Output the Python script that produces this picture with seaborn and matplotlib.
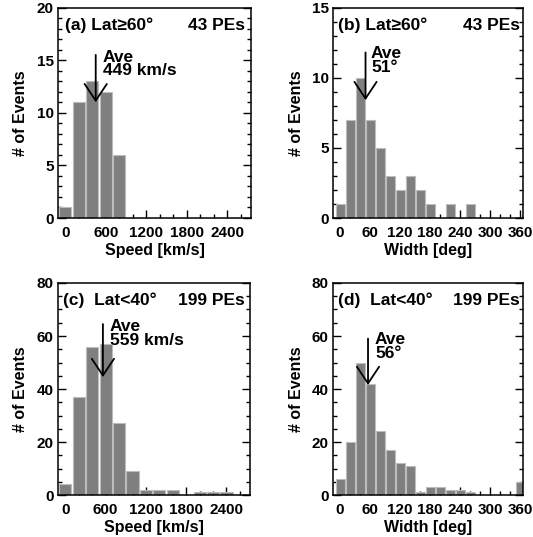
import numpy as np
import pandas as pd
import matplotlib
matplotlib.use("Agg")
import matplotlib.pyplot as plt
from matplotlib.ticker import MultipleLocator
import seaborn as sns

# ---------------- data ----------------
speed_bins = [0, 200, 400, 600, 800, 1000, 1200, 1400, 1600, 1800, 2000, 2200, 2400]
speed_hi = [1, 11, 13, 12, 6, 0, 0, 0, 0, 0, 0, 0, 0]          # Lat >= 60
speed_lo = [4, 37, 56, 57, 27, 9, 2, 2, 2, 0, 1, 1, 1]          # Lat < 40

width_bins = [0, 20, 40, 60, 80, 100, 120, 140, 160, 180, 200, 220, 240,
              260, 280, 300, 320, 340, 360]
width_hi = [1, 7, 10, 7, 5, 3, 2, 3, 2, 1, 0, 1, 0, 1, 0, 0, 0, 0, 0]
width_lo = [6, 20, 50, 42, 24, 17, 12, 11, 1, 3, 3, 2, 2, 1, 0, 0, 0, 0, 5]

panel_labels = ["(a) Lat\u226560\u00b0", "(b) Lat\u226560\u00b0",
                "(c)  Lat<40\u00b0", "(d)  Lat<40\u00b0"]
pe_labels = ["43 PEs", "43 PEs", "199 PEs", "199 PEs"]
ave_values = [449, 51, 559, 56]
ave_texts = ["Ave\n449 km/s", "Ave\n51\u00b0", "Ave\n559 km/s", "Ave\n56\u00b0"]
speed_ticks = [0, 600, 1200, 1800, 2400]
width_ticks = [0, 60, 120, 180, 240, 300, 360]

# ---------------- style ----------------
sns.set_theme(style="ticks")
plt.rcParams["font.family"] = ["Liberation Sans", "DejaVu Sans"]
plt.rcParams["font.weight"] = "bold"
plt.rcParams["axes.labelweight"] = "bold"
plt.rcParams["axes.linewidth"] = 1.1
plt.rcParams["axes.edgecolor"] = "black"
plt.rcParams["text.color"] = "black"
plt.rcParams["axes.labelcolor"] = "black"
plt.rcParams["xtick.color"] = "black"
plt.rcParams["ytick.color"] = "black"

FS_TICK = 11
FS_LAB = 11.5
FS_TXT = 12.5
BAR = "#7f7f7f"
EDGE = "#bdbdbd"

fig = plt.figure(figsize=(5.33, 5.37), dpi=100)

rects = [
    [0.1088, 0.594, 0.3621, 0.392],
    [0.6248, 0.594, 0.3565, 0.392],
    [0.1088, 0.0782, 0.3602, 0.3948],
    [0.6248, 0.0782, 0.3565, 0.3948],
]

panels = [
    dict(x=speed_bins, y=speed_hi, xlim=(-110, 2750), ylim=(0, 20), ymaj=5, ymin=1,
         xt=speed_ticks, xmin=200, xlabel="Speed [km/s]",
         arrow=(15.5, 11.0), lab=(0.036, 0.893), pe=0.969, ave=(0.233, 0.80)),
    dict(x=width_bins, y=width_hi, xlim=(-14, 366), ylim=(0, 15), ymaj=5, ymin=1,
         xt=width_ticks, xmin=20, xlabel="Width [deg]",
         arrow=(11.8, 8.4), lab=(0.026, 0.893), pe=0.984, ave=(0.20, 0.815)),
    dict(x=speed_bins, y=speed_lo, xlim=(-110, 2750), ylim=(0, 80), ymaj=20, ymin=5,
         xt=speed_ticks, xmin=200, xlabel="Speed [km/s]",
         arrow=(64.5, 44.5), lab=(0.026, 0.896), pe=0.974, ave=(0.271, 0.828)),
    dict(x=width_bins, y=width_lo, xlim=(-14, 366), ylim=(0, 80), ymaj=20, ymin=5,
         xt=width_ticks, xmin=20, xlabel="Width [deg]",
         arrow=(59.0, 41.5), lab=(0.026, 0.896), pe=0.984, ave=(0.221, 0.767)),
]

for i, (p, r) in enumerate(zip(panels, rects)):
    ax = fig.add_axes(r)
    df = pd.DataFrame({"bin": p["x"], "count": p["y"]})
    sns.barplot(data=df, x="bin", y="count", native_scale=True, width=0.9,
                color=BAR, saturation=1, edgecolor=EDGE, linewidth=0.8,
                errorbar=None, ax=ax)
    ax.set_xlim(*p["xlim"])
    ax.set_ylim(*p["ylim"])
    ax.set_xticks(p["xt"])
    ax.set_xticklabels([str(t) for t in p["xt"]])
    ax.xaxis.set_minor_locator(MultipleLocator(p["xmin"]))
    ax.yaxis.set_major_locator(MultipleLocator(p["ymaj"]))
    ax.yaxis.set_minor_locator(MultipleLocator(p["ymin"]))
    ax.tick_params(which="both", direction="in", right=True, top=False,
                   colors="black", labelsize=FS_TICK)
    ax.tick_params(which="major", length=5.8, width=1.0)
    ax.tick_params(which="minor", length=2.8, width=1.0)
    ax.tick_params(axis="x", which="major", pad=6.0)
    ax.tick_params(axis="y", which="major", pad=3.0)
    for lab in ax.get_xticklabels() + ax.get_yticklabels():
        lab.set_fontweight("bold")
        lab.set_color("black")
    for s in ax.spines.values():
        s.set_visible(True)
        s.set_color("black")
    ax.set_xlabel(p["xlabel"], fontsize=FS_LAB, fontweight="bold", labelpad=2,
                  color="black")
    ax.set_ylabel("# of Events", fontsize=FS_LAB, fontweight="bold", labelpad=6,
                  color="black")

    ax.text(p["lab"][0], p["lab"][1], panel_labels[i], transform=ax.transAxes,
            fontsize=FS_TXT, fontweight="bold", ha="left", va="baseline",
            color="black")
    ax.text(p["pe"], p["lab"][1], pe_labels[i], transform=ax.transAxes,
            fontsize=FS_TXT, fontweight="bold", ha="right", va="baseline",
            color="black")
    ax.text(p["ave"][0], p["ave"][1], ave_texts[i], transform=ax.transAxes,
            fontsize=FS_TXT, fontweight="bold", ha="left", va="top",
            linespacing=0.85, color="black")
    top, tip = p["arrow"]
    ax.annotate("", xy=(ave_values[i], tip), xytext=(ave_values[i], top),
                arrowprops=dict(arrowstyle="->,head_length=1.2,head_width=0.8",
                                lw=1.3, color="black", shrinkA=0, shrinkB=0,
                                mutation_scale=10))

fig.savefig("out.png", dpi=100)
